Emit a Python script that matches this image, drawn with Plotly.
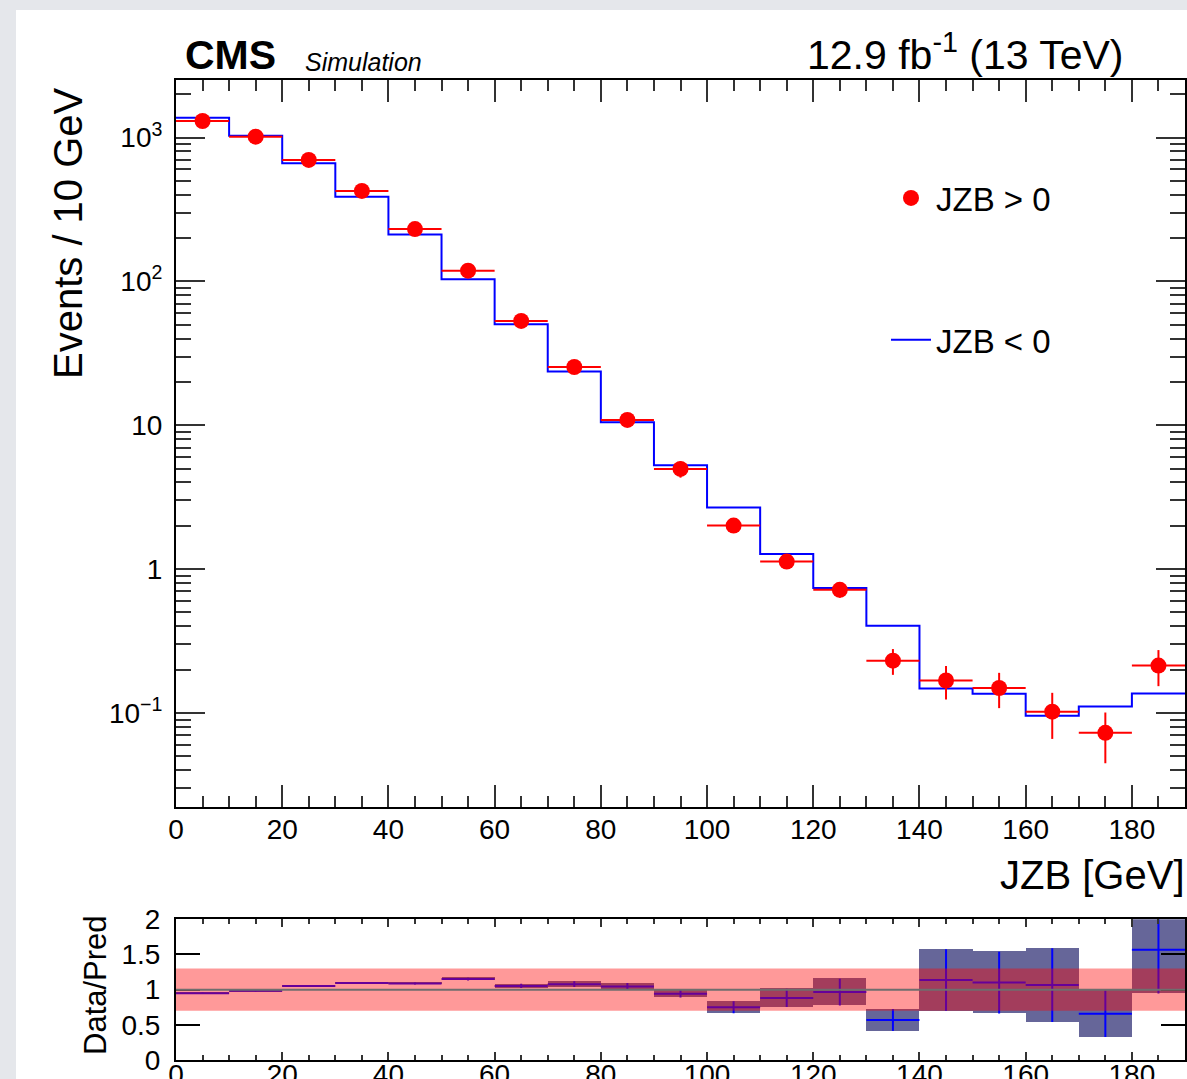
import numpy as np
import plotly.graph_objects as go

# ---------------- data ----------------
bin_low = [0, 10, 20, 30, 40, 50, 60, 70, 80, 90, 100, 110, 120, 130, 140, 150, 160, 170, 180]
bin_width = 10
x_max = 190

# JZB > 0 (points)
data_pos = [1302, 1013, 698, 425, 231, 118.7, 53.1, 25.4, 10.89, 4.97, 2.005, 1.127,
            0.717, 0.231, 0.168, 0.149, 0.102, 0.0727, 0.2135]
data_err = [12, 10, 8.5, 6.6, 4.9, 3.5, 2.3, 1.6, 1.0, 0.65, 0.14, 0.10,
            0.085, 0.047, 0.044, 0.041, 0.036, 0.028, 0.06]
# JZB < 0 (histogram)
pred_neg = [1373, 1029, 662, 388, 212, 103.4, 50.3, 23.6, 10.49, 5.27, 2.675, 1.275,
            0.740, 0.403, 0.148, 0.136, 0.0955, 0.1108, 0.1365]
# ratio panel
ratio = [0.95, 0.985, 1.053, 1.095, 1.088, 1.15, 1.053, 1.078, 1.045, 0.942, 0.75, 0.883,
         0.966, 0.57, 1.136, 1.10, 1.065, 0.657, 1.567]
ratio_err = [0.01, 0.01, 0.012, 0.014, 0.015, 0.02, 0.03, 0.04, 0.05, 0.054, 0.085, 0.13,
             0.19, 0.156, 0.437, 0.44, 0.525, 0.33, 0.62]
syst = 0.3

x_ticks = [0, 20, 40, 60, 80, 100, 120, 140, 160, 180]
y_tickvals = [0.1, 1, 10, 100, 1000]
y_ticktext = ["10<sup>\u22121</sup>", "1", "10", "10<sup>2</sup>", "10<sup>3</sup>"]
r_tickvals = [0, 0.5, 1, 1.5, 2]
r_ticktext = ["0", "0.5", "1", "1.5", "2"]

# ---------------- geometry ----------------
W, H = 1187, 1079
FONT = "Liberation Sans, Arial, Helvetica, sans-serif"
centers = [b + bin_width / 2 for b in bin_low]
half = [bin_width / 2] * len(bin_low)
edges = bin_low + [x_max]
pred_step = pred_neg + [pred_neg[-1]]

minor_y = [m * 10.0 ** k for k in range(-2, 4) for m in range(2, 10)]

def px_x(p):
    return p / W

def px_y(p):
    return 1 - p / H

fig = go.Figure()

# ratio boxes
fig.add_trace(go.Bar(
    x=centers, base=[r - e for r, e in zip(ratio, ratio_err)],
    y=[2 * e for e in ratio_err], width=[bin_width] * len(bin_low),
    marker=dict(color="rgb(102,102,153)", line=dict(width=0)),
    xaxis="x2", yaxis="y2", showlegend=False, hoverinfo="skip"))
# ratio crosses
fig.add_trace(go.Scatter(
    x=centers, y=ratio, mode="markers",
    marker=dict(size=1, color="blue"),
    error_x=dict(type="data", array=half, color="blue", thickness=2, width=0),
    error_y=dict(type="data", array=ratio_err, color="blue", thickness=2, width=0),
    xaxis="x2", yaxis="y2", showlegend=False, hoverinfo="skip"))

# main histogram JZB < 0
fig.add_trace(go.Scatter(
    x=edges, y=pred_step, mode="lines", line=dict(shape="hv", color="blue", width=2),
    name="JZB < 0", legendgroup="b", legendrank=2, xaxis="x", yaxis="y"))
# main points JZB > 0
fig.add_trace(go.Scatter(
    x=centers, y=data_pos, mode="markers", name="JZB > 0",
    marker=dict(size=16, color="red"),
    error_x=dict(type="data", array=half, color="red", thickness=2, width=0),
    error_y=dict(type="data", array=data_err, color="red", thickness=2, width=0),
    legendgroup="a", legendrank=1, xaxis="x", yaxis="y"))

xdom = [px_x(176), px_x(1185)]
tickc = "#333333"

common_x = dict(domain=xdom, range=[0, x_max], tickmode="array", tickvals=x_ticks,
                showline=True, linecolor="black", linewidth=2, mirror="ticks",
                ticks="inside", tickcolor=tickc, tickwidth=1.5,
                showgrid=False, zeroline=False, tickfont=dict(size=28, color="black"),
                automargin=False)

fig.update_layout(
    width=W, height=H,
    margin=dict(l=0, r=0, t=0, b=0),
    paper_bgcolor="#e5e7eb", plot_bgcolor="white",
    font=dict(family=FONT, color="black"),
    bargap=0,
    xaxis=dict(**common_x, anchor="y", ticklen=22,
               minor=dict(dtick=5, tick0=0, ticks="inside", ticklen=11, tickcolor=tickc,
                          tickwidth=1.5, showgrid=False),
               ticklabelstandoff=-3),
    yaxis=dict(domain=[px_y(806.7), px_y(80)], type="log",
               range=[np.log10(0.0223), np.log10(2510)],
               tickmode="array", tickvals=y_tickvals, ticktext=y_ticktext,
               ticks="inside", ticklen=29, tickcolor=tickc, tickwidth=1.5,
               minor=dict(tickmode="array", tickvals=minor_y, ticks="inside", ticklen=15,
                          tickcolor=tickc, tickwidth=1.5, showgrid=False),
               showline=True, linecolor="black", linewidth=2, mirror="ticks",
               showgrid=False, zeroline=False, tickfont=dict(size=28, color="black"),
               anchor="x", automargin=False, ticklabelstandoff=6),
    xaxis2=dict(**common_x, anchor="y2", ticklen=8,
                minor=dict(dtick=5, tick0=0, ticks="inside", ticklen=5, tickcolor=tickc,
                           tickwidth=1.5, showgrid=False),
                ticklabelstandoff=-12),
    yaxis2=dict(domain=[px_y(1060), px_y(919.3)], range=[0, 2],
                tickmode="array", tickvals=r_tickvals, ticktext=r_ticktext,
                ticks="inside", ticklen=24, tickcolor="black", tickwidth=1.5,
                showline=True, linecolor="black", linewidth=2, mirror="ticks",
                showgrid=False, zeroline=False, tickfont=dict(size=28, color="black"),
                anchor="x2", automargin=False, ticklabelstandoff=8),
    legend=dict(x=px_x(886), y=px_y(170), xanchor="left", yanchor="top",
                bgcolor="rgba(0,0,0,0)", font=dict(size=33, color="black"),
                tracegroupgap=96, itemwidth=40, traceorder="grouped"),
    shapes=[
        dict(type="rect", xref="paper", yref="paper", x0=px_x(16), x1=1, y0=0, y1=px_y(10),
             fillcolor="white", line=dict(width=0), layer="below"),
        dict(type="rect", xref="x2", yref="y2", x0=0, x1=x_max, y0=1 - syst, y1=1 + syst,
             fillcolor="rgba(255,0,0,0.4)", line=dict(width=0), layer="above"),
        dict(type="line", xref="x2", yref="y2", x0=0, x1=x_max, y0=1, y1=1,
             line=dict(color="rgb(110,110,110)", width=2), layer="above"),
    ],
    annotations=[
        dict(text="<b>CMS</b>", xref="paper", yref="paper", x=px_x(183), y=px_y(80),
             xanchor="left", yanchor="bottom", showarrow=False,
             font=dict(size=41, family=FONT)),
        dict(text="<i>Simulation</i>", xref="paper", yref="paper", x=px_x(303), y=px_y(78),
             xanchor="left", yanchor="bottom", showarrow=False,
             font=dict(size=25, family=FONT)),
        dict(text="12.9 fb<sup>-1</sup> (13 TeV)", xref="paper", yref="paper",
             x=px_x(1126), y=px_y(80), xanchor="right", yanchor="bottom", showarrow=False,
             font=dict(size=41, family=FONT)),
        dict(text="Events / 10 GeV", xref="paper", yref="paper", x=px_x(68), y=px_y(233),
             xanchor="center", yanchor="middle", textangle=-90, showarrow=False,
             font=dict(size=40, family=FONT)),
        dict(text="JZB [GeV]", xref="paper", yref="paper", x=px_x(1187), y=px_y(875),
             xanchor="right", yanchor="middle", showarrow=False,
             font=dict(size=40, family=FONT)),
        dict(text="Data/Pred", xref="paper", yref="paper", x=px_x(95), y=px_y(985),
             xanchor="center", yanchor="middle", textangle=-90, showarrow=False,
             font=dict(size=31, family=FONT)),
    ],
)

fig.write_html(
    "out.html",
    config={"displayModeBar": False},
    post_script="document.body.style.margin='0';document.body.style.padding='0';"
                "document.body.style.overflow='hidden';",
)
